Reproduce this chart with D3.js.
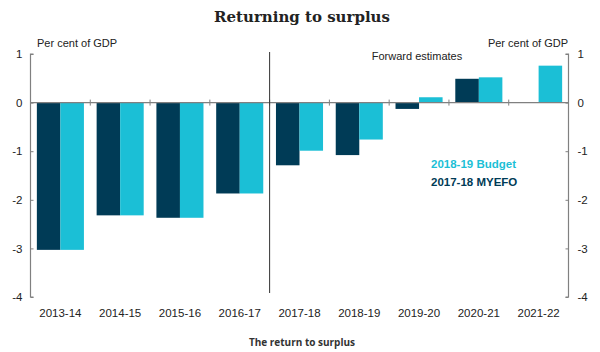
<!DOCTYPE html>
<html>
<head>
<meta charset="utf-8">
<script src="https://cdn.jsdelivr.net/npm/d3@7"></script>
<style>
  body { margin: 0; background: #fff; }
  svg { display: block; }
</style>
</head>
<body>
<svg id="chart" width="600" height="352"></svg>
<script>
const categories = ["2013-14","2014-15","2015-16","2016-17","2017-18","2018-19","2019-20","2020-21","2021-22"];
const myefo  = [-3.03, -2.32, -2.37, -1.87, -1.29, -1.08, -0.13, 0.49, null];
const budget = [-3.03, -2.32, -2.37, -1.87, -0.99, -0.76, 0.11, 0.52, 0.76];
const yTicks = [1, 0, -1, -2, -3, -4];
const seriesNames = ["2017-18 MYEFO", "2018-19 Budget"];
const colors = ["#003b56", "#1bbfd6"];

const svg = d3.select("#chart");
const mLeft = 30.5, mRight = 568.5, mTop = 54, mBottom = 297;
const x = d3.scaleBand().domain(categories).range([mLeft, mRight]).paddingInner(0).paddingOuter(0);
const y = d3.scaleLinear().domain([-4, 1]).range([mBottom, mTop]);
const inner = d3.scaleBand().domain([0, 1]).range([0, x.bandwidth()]).paddingOuter(0.27).paddingInner(0);

const axisColor = "#808080";
const fmt = d => String(d);

// bars
const groups = svg.append("g").selectAll("g").data(categories).join("g")
  .attr("transform", d => `translate(${x(d)},0)`);
groups.each(function(c, i) {
  const g = d3.select(this);
  [myefo[i], budget[i]].forEach((v, s) => {
    if (v == null) return;
    g.append("rect")
      .attr("x", inner(s))
      .attr("width", inner.bandwidth())
      .attr("y", y(Math.max(0, v)))
      .attr("height", Math.abs(y(v) - y(0)))
      .attr("fill", colors[s]);
  });
});

// side axes
const leftAxis = d3.axisLeft(y).tickValues(yTicks).tickSize(-3).tickPadding(10).tickFormat(fmt);
const la = svg.append("g").attr("transform", `translate(${mLeft},0)`).call(leftAxis);
const rightAxis = d3.axisRight(y).tickValues(yTicks).tickSize(-3).tickPadding(10).tickFormat(fmt);
const ra = svg.append("g").attr("transform", `translate(${mRight},0)`).call(rightAxis);
[la, ra].forEach(a => {
  a.select(".domain").attr("stroke", axisColor).attr("stroke-width", 1.2)
    .attr("d", a === la ? `M3,${mTop}H0V${mBottom}H3` : `M-3,${mTop}H0V${mBottom}H-3`);
  a.selectAll(".tick line").attr("stroke", axisColor);
  a.selectAll(".tick text").attr("fill", "#222").style("font-family", "Liberation Sans, Arial, sans-serif").style("font-size", "11.5px");
});
la.selectAll(".tick text").attr("x", -8);
ra.selectAll(".tick text").attr("x", 9);

// zero axis
svg.append("line").attr("x1", mLeft).attr("x2", mRight).attr("y1", y(0)).attr("y2", y(0))
  .attr("stroke", axisColor).attr("stroke-width", 1.2);
svg.append("g").selectAll("line").data(categories.slice(1)).join("line")
  .attr("x1", d => x(d)).attr("x2", d => x(d))
  .attr("y1", y(0) - 3).attr("y2", y(0) + 3)
  .attr("stroke", axisColor).attr("stroke-width", 1);

// category labels
svg.append("g").selectAll("text").data(categories).join("text")
  .attr("x", d => x(d) + x.bandwidth() / 2)
  .attr("y", 317)
  .attr("text-anchor", "middle")
  .attr("fill", "#222")
  .style("font-family", "Liberation Sans, Arial, sans-serif")
  .style("font-size", "11.5px")
  .text(d => d);

// divider
svg.append("line").attr("x1", x("2017-18")).attr("x2", x("2017-18"))
  .attr("y1", 52).attr("y2", 293).attr("stroke", "#333").attr("stroke-width", 1);

// labels
const labelStyle = s => s.style("font-family", "Liberation Sans, Arial, sans-serif").style("font-size", "11px").attr("fill", "#222");
svg.append("text").attr("x", 37).attr("y", 47).text("Per cent of GDP").call(labelStyle);
svg.append("text").attr("x", 568).attr("y", 47).attr("text-anchor", "end").text("Per cent of GDP").call(labelStyle);
svg.append("text").attr("x", 417).attr("y", 60).attr("text-anchor", "middle").text("Forward estimates").call(labelStyle);

// legend
svg.append("text").attr("x", 431).attr("y", 168).text(seriesNames[1])
  .style("font-family", "Liberation Sans, Arial, sans-serif").style("font-size", "11.5px").style("font-weight", "bold").attr("fill", colors[1]);
svg.append("text").attr("x", 431).attr("y", 186).text(seriesNames[0])
  .style("font-family", "Liberation Sans, Arial, sans-serif").style("font-size", "11.5px").style("font-weight", "bold").attr("fill", colors[0]);

// title
svg.append("text").attr("x", 302).attr("y", 22).attr("text-anchor", "middle")
  .style("font-family", "DejaVu Serif, serif").style("font-size", "15px").style("font-weight", "bold")
  .attr("fill", "#222").text("Returning to surplus");

// footer
svg.append("text").attr("x", 302).attr("y", 346).attr("text-anchor", "middle")
  .style("font-family", "Open Sans, sans-serif").style("font-size", "10px").style("font-weight", "bold")
  .attr("fill", "#333").text("The return to surplus");
</script>
</body>
</html>
